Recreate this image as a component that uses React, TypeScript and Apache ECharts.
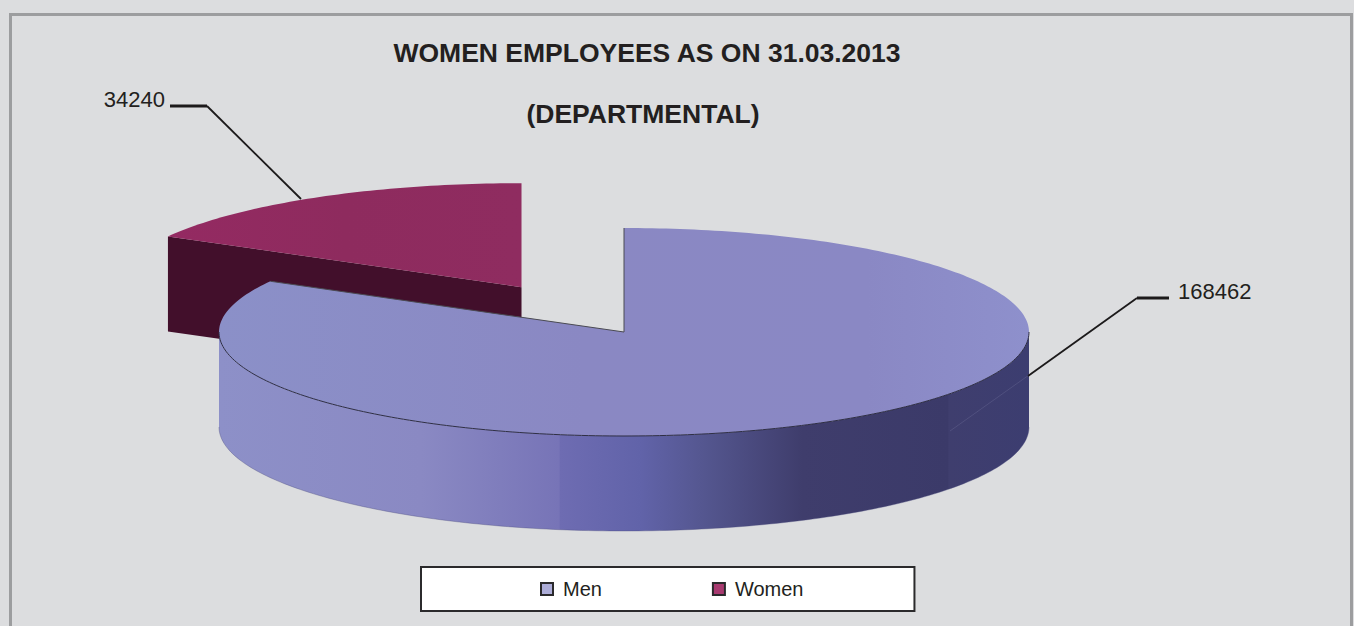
import React, { useEffect, useRef } from "react";
import * as echarts from "echarts";

const categories = ["Men", "Women"];
const employees = [168462, 34240];
const titleLines = ["WOMEN EMPLOYEES AS ON 31.03.2013", "(DEPARTMENTAL)"];

const FONT = '"Liberation Sans", Arial, sans-serif';
const INK = "#231F20";

// Disc geometry, in pixels on the page.
const CX = 624;
const CY = 332;
const RX = 405;
const RY = 104;
const DEPTH = 95;
const EXPLODE = 0.5;

const sliceStyles = [
  {
    legend: "#ADADD8",
    top: {
      type: "linear", x: 0, y: 0, x2: 1, y2: 0,
      colorStops: [
        { offset: 0, color: "#8B90C8" },
        { offset: 0.45, color: "#8A88C3" },
        { offset: 0.8, color: "#8A88C4" },
        { offset: 1, color: "#8E90CC" },
      ],
    },
    wall: {
      type: "linear", x: 0, y: 0, x2: 1, y2: 0,
      colorStops: [
        { offset: 0, color: "#8D90C8" },
        { offset: 0.25, color: "#8A89C3" },
        { offset: 0.42, color: "#7774B7" },
        { offset: 0.421, color: "#6E6CB2" },
        { offset: 0.52, color: "#6163A9" },
        { offset: 0.6, color: "#54568F" },
        { offset: 0.72, color: "#3F3D6C" },
        { offset: 0.9, color: "#3B3A69" },
        { offset: 0.901, color: "#3F3E6E" },
        { offset: 1, color: "#3C3D70" },
      ],
    },
    // Leader from the rim out to the value label.
    leader: [[1028, 376], [1137, 298]],
    shelf: [[1137, 298], [1169, 298]],
    label: { x: 1178, y: 291, align: "left" },
  },
  {
    legend: "#A83A70",
    top: {
      type: "linear", x: 0, y: 0, x2: 1, y2: 0,
      colorStops: [
        { offset: 0, color: "#942A62" },
        { offset: 0.5, color: "#8E2B5E" },
        { offset: 1, color: "#8F2C60" },
      ],
    },
    wall: "#420F2B",
    leader: [[301, 199], [207, 106]],
    shelf: [[207, 106], [170, 106]],
    label: { x: 165, y: 99, align: "right" },
  },
];

const total = employees.reduce((a, b) => a + b, 0);

const rad = (deg: number) => (deg * Math.PI) / 180;

// Angles run clockwise from twelve o'clock.
const rim = (cx: number, cy: number, deg: number, drop = 0): number[] => [
  cx + RX * Math.sin(rad(deg)),
  cy - RY * Math.cos(rad(deg)) + drop,
];

const arcPoints = (cx: number, cy: number, from: number, to: number, drop = 0) => {
  const pts: number[][] = [];
  const steps = Math.max(2, Math.ceil(Math.abs(to - from)));
  for (let i = 0; i <= steps; i++) {
    pts.push(rim(cx, cy, from + ((to - from) * i) / steps, drop));
  }
  return pts;
};

const sliceRenderer = (index: number) => () => {
  const before = employees.slice(0, index).reduce((a, b) => a + b, 0);
  const start = (before / total) * 360;
  const end = ((before + employees[index]) / total) * 360;
  const mid = (start + end) / 2;
  const look = sliceStyles[index];
  const pulled = index === 0 ? 0 : EXPLODE;
  const cx = CX + pulled * RX * Math.sin(rad(mid));
  const cy = CY - pulled * RY * Math.cos(rad(mid));

  const children: any[] = [];

  // Cut faces that turn towards the viewer.
  const cutFace = (deg: number) => {
    const p = rim(cx, cy, deg);
    children.push({
      type: "polygon",
      shape: { points: [[cx, cy], p, [p[0], p[1] + DEPTH], [cx, cy + DEPTH]] },
      style: { fill: look.wall },
    });
  };
  if (Math.sin(rad(start)) < 0) cutFace(start);
  if (Math.sin(rad(end)) > 0) cutFace(end);

  // Outer wall, only along the front half of the rim.
  const wallFrom = Math.max(start, 90);
  const wallTo = Math.min(end, 270);
  if (wallTo > wallFrom) {
    const upper = arcPoints(cx, cy, wallFrom, wallTo);
    const lower = arcPoints(cx, cy, wallTo, wallFrom, DEPTH);
    children.push({
      type: "polygon",
      shape: { points: upper.concat(lower) },
      style: { fill: look.wall },
    });
    children.push({
      type: "polyline",
      shape: { points: lower },
      style: { fill: "none", stroke: "#4A4A7A", lineWidth: 0.6, opacity: 0.6 },
    });
    children.push({
      type: "line",
      shape: { x1: 950, y1: 431, x2: 1029, y2: 375 },
      style: { stroke: "#6A6A96", lineWidth: 0.6, opacity: 0.7 },
    });
  }

  // Top face.
  const topPts = [[cx, cy]].concat(arcPoints(cx, cy, start, end));
  children.push({
    type: "polygon",
    shape: { points: topPts },
    style: { fill: look.top },
  });

  // Dark edge on the rim and the cuts of the main disc.
  if (wallTo > wallFrom) {
    children.push({
      type: "polyline",
      shape: { points: arcPoints(cx, cy, wallFrom, wallTo) },
      style: { fill: "none", stroke: "#2E2E44", lineWidth: 1 },
    });
    children.push({
      type: "polyline",
      shape: { points: [rim(cx, cy, start), [cx, cy], rim(cx, cy, end)] },
      style: { fill: "none", stroke: "#4A4A52", lineWidth: 1 },
    });
  }

  // Leader line and value label.
  children.push({
    type: "polyline",
    shape: { points: look.leader },
    style: { fill: "none", stroke: "#1C1A1B", lineWidth: 1.8 },
  });
  children.push({
    type: "polyline",
    shape: { points: look.shelf },
    style: { fill: "none", stroke: "#1C1A1B", lineWidth: 3 },
  });
  children.push({
    type: "text",
    x: look.label.x,
    y: look.label.y,
    style: {
      text: String(employees[index]),
      fill: INK,
      font: `22px ${FONT}`,
      align: look.label.align,
      verticalAlign: "middle",
    },
  });

  return { type: "group", children };
};

export default function App() {
  const ref = useRef<HTMLDivElement>(null);

  useEffect(() => {
    document.body.style.margin = "0";
    document.body.style.overflow = "hidden";
    const chart = echarts.init(ref.current!, null, { renderer: "svg" });
    chart.setOption({
      animation: false,
      backgroundColor: "#DCDDDF",
      title: [
        {
          text: titleLines[0],
          left: 642,
          top: 34,
          textAlign: "center",
          textStyle: { fontFamily: FONT, fontSize: 26.5, fontWeight: "bold", color: INK },
        },
        {
          text: titleLines[1],
          left: 638,
          top: 95,
          textAlign: "center",
          textStyle: { fontFamily: FONT, fontSize: 26.5, fontWeight: "bold", color: INK },
        },
      ],
      legend: {
        left: 421,
        top: 567,
        orient: "horizontal",
        selectedMode: false,
        itemWidth: 12,
        itemHeight: 12,
        itemGap: 110,
        padding: [12, 111, 12, 119],
        backgroundColor: "#FFFFFF",
        borderColor: "#2B2A2C",
        borderWidth: 2,
        textStyle: { fontFamily: FONT, fontSize: 20, color: INK, padding: [0, 0, 0, 5] },
        data: categories.map((name, i) => ({
          name,
          icon: "rect",
          itemStyle: {
            color: sliceStyles[i].legend,
            borderColor: "#2B2A2C",
            borderWidth: 2,
          },
        })),
      },
      graphic: [
        {
          type: "rect",
          silent: true,
          shape: { x: 10.5, y: 14.5, width: 1341, height: 700 },
          style: { fill: "none", stroke: "#9C9D9F", lineWidth: 3 },
        },
      ],
      // Women first so that the main disc overlaps the pulled-out slice.
      series: [1, 0].map((i) => ({
        type: "custom",
        name: categories[i],
        coordinateSystem: "none",
        silent: true,
        itemStyle: { color: sliceStyles[i].legend },
        data: [employees[i]],
        renderItem: sliceRenderer(i),
      })),
    });
    return () => chart.dispose();
  }, []);

  return <div ref={ref} style={{ position: "absolute", left: 0, top: 0, width: 1354, height: 626 }} />;
}
